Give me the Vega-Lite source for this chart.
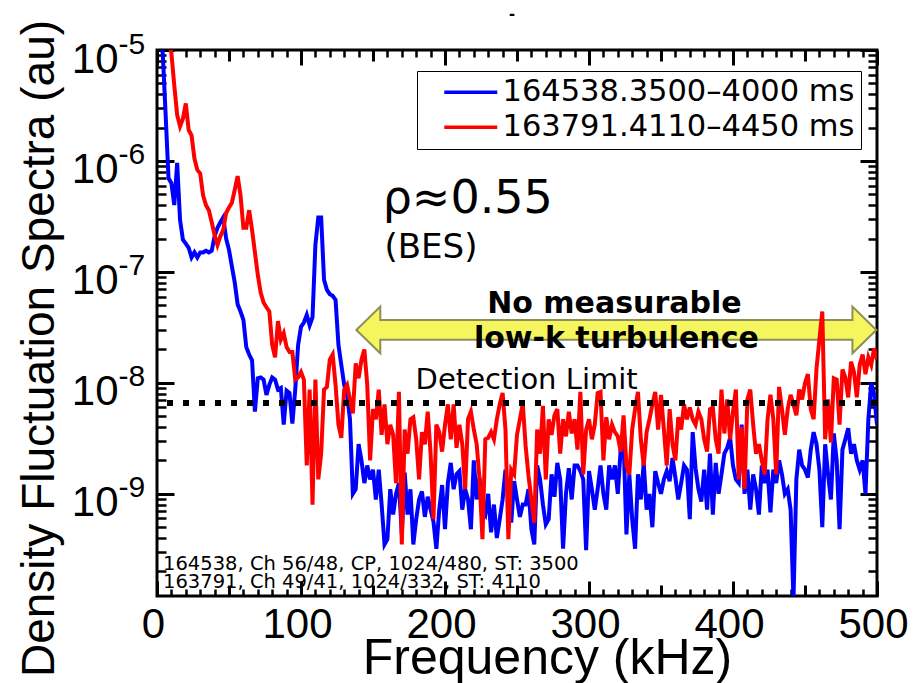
{
"$schema": "https://vega.github.io/schema/vega-lite/v6.json",
"width": 720, "height": 546,
"autosize": {"type": "none"},
"padding": {"left": 157, "top": 50, "right": 44, "bottom": 87},
"background": "white",
"config": {
  "view": {"stroke": "black", "strokeWidth": 3},
  "axis": {"grid": false, "domain": false, "labelColor": "black", "titleColor": "black", "tickColor": "black", "labelFont": "Liberation Sans", "titleFont": "Liberation Sans", "titleFontWeight": "normal", "labelOverlap": false, "labelFlush": false, "labelBound": false, "tickWidth": 3}
},
"datasets": {
  "spectra": [
{"f":0,"b":1.6e-5,"r":2.5e-5},{"f":2,"b":1.2e-5,"r":2.2e-5},{"f":4,"b":9.4e-6,"r":1.8e-5},{"f":6,"b":2.6e-6,"r":1.5e-5},{"f":8,"b":7e-7,"r":1.2e-5},
{"f":10,"b":6.3e-7,"r":9.4e-6},{"f":12,"b":4e-7,"r":4.8e-6},{"f":14,"b":9.6e-7,"r":2.6e-6},{"f":16,"b":2.95e-7,"r":2.05e-6},{"f":18,"b":1.95e-7,"r":2.4e-6},
{"f":20,"b":1.8e-7,"r":3.3e-6},{"f":22,"b":1.65e-7,"r":1.9e-6},{"f":24,"b":1.35e-7,"r":1.7e-6},{"f":26,"b":1.5e-7,"r":1.05e-6},{"f":28,"b":1.35e-7,"r":8.3e-7},
{"f":30,"b":1.5e-7,"r":7.7e-7},{"f":32,"b":1.5e-7,"r":4.9e-7},{"f":34,"b":1.55e-7,"r":4e-7},{"f":36,"b":1.5e-7,"r":3.6e-7},{"f":38,"b":1.55e-7,"r":2.8e-7},
{"f":40,"b":2.1e-7,"r":2.15e-7},{"f":42,"b":2.5e-7,"r":1.75e-7},{"f":44,"b":2.8e-7,"r":2.1e-7},{"f":46,"b":3.1e-7,"r":2.4e-7},{"f":48,"b":2e-7,"r":3.4e-7},
{"f":50,"b":1.58e-7,"r":3.8e-7},{"f":52,"b":1.12e-7,"r":4.2e-7},{"f":54,"b":8e-8,"r":5.5e-7},{"f":56,"b":5.1e-8,"r":7.3e-7},{"f":58,"b":4.4e-8,"r":4.9e-7},
{"f":60,"b":3.7e-8,"r":2.5e-7},{"f":62,"b":2.1e-8,"r":2.5e-7},{"f":64,"b":1.8e-8,"r":3.6e-7},{"f":66,"b":1.6e-8,"r":2.4e-7},{"f":68,"b":5.5e-9,"r":1.5e-7},
{"f":70,"b":1.1e-8,"r":9.4e-8},{"f":72,"b":1.12e-8,"r":6.5e-8},{"f":74,"b":1.07e-8,"r":5.3e-8},{"f":76,"b":7.8e-9,"r":4.8e-8},{"f":78,"b":9.6e-9,"r":4.4e-8},
{"f":80,"b":1.12e-8,"r":2.2e-8},{"f":82,"b":1.07e-8,"r":1.7e-8},{"f":84,"b":8.7e-9,"r":3.6e-8},{"f":86,"b":9e-9,"r":2.45e-8},{"f":88,"b":4.2e-9,"r":2.8e-8},
{"f":90,"b":8.5e-9,"r":2.1e-8},{"f":92,"b":8.1e-9,"r":1.9e-8},{"f":94,"b":4.3e-9,"r":1.9e-8},{"f":96,"b":8.7e-9,"r":1.07e-8},{"f":98,"b":2.2e-8,"r":1.12e-8},
{"f":100,"b":3.2e-8,"r":1.25e-8},{"f":102,"b":3.5e-8,"r":1.07e-8},{"f":104,"b":4.1e-8,"r":1.8e-9},{"f":106,"b":3.3e-8,"r":8.7e-9},{"f":108,"b":3.9e-8,"r":8e-10},
{"f":110,"b":1.75e-7,"r":1.07e-8},{"f":112,"b":3.1e-7,"r":1.35e-9},{"f":114,"b":3.1e-7,"r":2.3e-9},{"f":116,"b":8.5e-8,"r":8.7e-9},{"f":118,"b":6.9e-8,"r":9.2e-9},
{"f":120,"b":6.3e-8,"r":1.62e-8},{"f":122,"b":6.1e-8,"r":1.8e-8},{"f":124,"b":5.6e-8,"r":9.6e-9},{"f":126,"b":2.2e-8,"r":4.2e-9},{"f":128,"b":1.45e-8,"r":3.2e-9},
{"f":130,"b":9.6e-9,"r":8.7e-9},{"f":132,"b":7.8e-9,"r":9.6e-9},{"f":134,"b":4.7e-9,"r":7.1e-9},{"f":136,"b":1e-9,"r":5.3e-9},{"f":138,"b":1.1e-9,"r":1.5e-8},
{"f":140,"b":2.8e-9,"r":1.1e-8},{"f":142,"b":2e-9,"r":1.62e-8},{"f":144,"b":1.25e-9,"r":2e-8},{"f":146,"b":1.8e-9,"r":9.6e-9},{"f":148,"b":1.35e-9,"r":2e-9},
{"f":150,"b":1.65e-9,"r":5.8e-9},{"f":152,"b":8.9e-10,"r":4.7e-9},{"f":154,"b":1.65e-9,"r":8.7e-9},{"f":156,"b":8e-10,"r":3.4e-9},{"f":158,"b":3.5e-10,"r":6.4e-9},
{"f":160,"b":3.9e-10,"r":2.8e-9},{"f":162,"b":1.1e-9,"r":4.2e-9},{"f":164,"b":6.5e-10,"r":3.4e-9},{"f":166,"b":1e-9,"r":1.25e-9},{"f":168,"b":1.25e-9,"r":8.3e-9},
{"f":170,"b":4.3e-10,"r":3.5e-10},{"f":172,"b":1.55e-9,"r":3.8e-9},{"f":174,"b":6.5e-10,"r":2.3e-9},{"f":176,"b":1.1e-9,"r":4.7e-9},{"f":178,"b":3.5e-10,"r":4.9e-9},
{"f":180,"b":5.9e-10,"r":3.1e-9},{"f":182,"b":8.9e-10,"r":1.35e-9},{"f":184,"b":1.05e-9,"r":3.6e-9},{"f":186,"b":6.2e-10,"r":2.8e-9},{"f":188,"b":9.4e-10,"r":5.5e-9},
{"f":190,"b":7.2e-10,"r":2.3e-9},{"f":192,"b":5.6e-10,"r":5.9e-10},{"f":194,"b":3.2e-10,"r":4.2e-9},{"f":196,"b":7.2e-10,"r":3.6e-9},{"f":198,"b":1.2e-9,"r":2.4e-9},
{"f":200,"b":4.8e-10,"r":4.2e-9},{"f":202,"b":1.25e-9,"r":6.4e-9},{"f":204,"b":1.9e-9,"r":3.1e-9},{"f":206,"b":1.1e-9,"r":6.4e-9},{"f":208,"b":1.5e-9,"r":2.6e-9},
{"f":210,"b":1.6e-9,"r":4.2e-9},{"f":212,"b":7.2e-10,"r":2.8e-9},{"f":214,"b":1.1e-9,"r":1.1e-9},{"f":216,"b":8.9e-10,"r":4.7e-9},{"f":218,"b":4.8e-10,"r":5.5e-9},
{"f":220,"b":2e-9,"r":3.8e-9},{"f":222,"b":8.9e-10,"r":2.8e-9},{"f":224,"b":1.4e-9,"r":1.35e-9},{"f":226,"b":7.2e-10,"r":3.9e-10},{"f":228,"b":6.5e-10,"r":3.1e-9},
{"f":230,"b":1e-9,"r":3.2e-9},{"f":232,"b":4.5e-10,"r":3.6e-9},{"f":234,"b":8e-10,"r":3.1e-9},{"f":236,"b":4e-10,"r":4.7e-9},{"f":238,"b":5.9e-10,"r":6.4e-9},
{"f":240,"b":8.9e-10,"r":8.1e-9},{"f":242,"b":1.65e-9,"r":3.8e-9},{"f":244,"b":9.4e-10,"r":3.9e-10},{"f":246,"b":5.5e-10,"r":1.65e-9},{"f":248,"b":1.3e-9,"r":1.5e-9},
{"f":250,"b":8.9e-10,"r":3.4e-9},{"f":252,"b":6.2e-10,"r":4.7e-9},{"f":254,"b":8e-10,"r":6.5e-9},{"f":256,"b":8e-10,"r":2.7e-9},{"f":258,"b":1.1e-9,"r":1.45e-9},
{"f":260,"b":4.8e-10,"r":8.9e-10},{"f":262,"b":3.5e-10,"r":5.5e-10},{"f":264,"b":1.8e-9,"r":3.8e-9},{"f":266,"b":1.35e-9,"r":2.3e-9},{"f":268,"b":8e-10,"r":6.2e-9},
{"f":270,"b":5.3e-10,"r":1.35e-9},{"f":272,"b":5.9e-10,"r":4.7e-9},{"f":274,"b":1.5e-9,"r":3.4e-9},{"f":276,"b":9.4e-10,"r":5.1e-9},{"f":278,"b":1.9e-9,"r":5.8e-9},
{"f":280,"b":1.35e-9,"r":2.3e-9},{"f":282,"b":3.2e-10,"r":4.7e-9},{"f":284,"b":1e-9,"r":3.3e-9},{"f":286,"b":1.7e-9,"r":5.5e-9},{"f":288,"b":8.9e-10,"r":3.5e-9},
{"f":290,"b":1.8e-9,"r":4.7e-9},{"f":292,"b":1.8e-9,"r":2.5e-9},{"f":294,"b":1.6e-9,"r":8.3e-9},{"f":296,"b":1.35e-9,"r":1.5e-9},{"f":298,"b":3.1e-10,"r":3.8e-9},
{"f":300,"b":1.6e-9,"r":4.7e-9},{"f":302,"b":1.1e-9,"r":3.1e-9},{"f":304,"b":7.2e-10,"r":4.2e-9},{"f":306,"b":1.1e-9,"r":8.1e-9},{"f":308,"b":1.8e-9,"r":8.3e-9},
{"f":310,"b":1e-9,"r":2e-9},{"f":312,"b":7.2e-10,"r":4.9e-9},{"f":314,"b":1.8e-9,"r":3.1e-9},{"f":316,"b":1.35e-9,"r":4.2e-9},{"f":318,"b":1.8e-9,"r":3.6e-9},
{"f":320,"b":1e-9,"r":3.3e-9},{"f":322,"b":2.5e-9,"r":2.4e-9},{"f":324,"b":3.1e-9,"r":5.1e-9},{"f":326,"b":4.3e-10,"r":1.8e-9},{"f":328,"b":1.5e-9,"r":1.5e-9},
{"f":330,"b":5.9e-10,"r":3.8e-9},{"f":332,"b":3.2e-10,"r":5.8e-9},{"f":334,"b":1.5e-9,"r":8.3e-9},{"f":336,"b":8.9e-10,"r":3.1e-9},{"f":338,"b":1.9e-9,"r":1.8e-9},
{"f":340,"b":7.2e-10,"r":3.6e-9},{"f":342,"b":1e-9,"r":4.7e-9},{"f":344,"b":5e-10,"r":6.4e-9},{"f":346,"b":1.6e-9,"r":8.3e-9},{"f":348,"b":1.25e-9,"r":3.8e-9},
{"f":350,"b":1e-9,"r":7.8e-9},{"f":352,"b":1.35e-9,"r":3.8e-9},{"f":354,"b":1.6e-9,"r":1.8e-9},{"f":356,"b":1.3e-9,"r":5.8e-9},{"f":358,"b":2.1e-9,"r":2.8e-9},
{"f":360,"b":1.4e-9,"r":2e-9},{"f":362,"b":8.9e-10,"r":4.9e-9},{"f":364,"b":1.25e-9,"r":3.8e-9},{"f":366,"b":1.8e-9,"r":6.4e-9},{"f":368,"b":1.65e-9,"r":4.7e-9},
{"f":370,"b":5.9e-10,"r":6e-9},{"f":372,"b":3.6e-9,"r":4.7e-9},{"f":374,"b":1.7e-9,"r":4.2e-9},{"f":376,"b":1.1e-9,"r":5.5e-9},{"f":378,"b":8.5e-10,"r":4.7e-9},
{"f":380,"b":1.65e-9,"r":3.1e-9},{"f":382,"b":7.2e-10,"r":2.4e-9},{"f":384,"b":2.3e-9,"r":5.8e-9},{"f":386,"b":6.5e-10,"r":6e-9},{"f":388,"b":1.9e-9,"r":3.1e-9},
{"f":390,"b":1e-9,"r":2.3e-9},{"f":392,"b":1.5e-9,"r":8.7e-9},{"f":394,"b":2.3e-9,"r":3.5e-9},{"f":396,"b":2.6e-9,"r":7.1e-9},{"f":398,"b":3.2e-9,"r":3.1e-9},
{"f":400,"b":1.8e-9,"r":5.5e-9},{"f":402,"b":1.35e-9,"r":8.7e-9},{"f":404,"b":1.25e-9,"r":1.35e-9},{"f":406,"b":4.2e-9,"r":4e-9},{"f":408,"b":1e-9,"r":1.1e-9},
{"f":410,"b":1.65e-9,"r":7.1e-9},{"f":412,"b":7.2e-10,"r":8.7e-9},{"f":414,"b":1.5e-9,"r":4.2e-9},{"f":416,"b":1.1e-9,"r":2.3e-9},{"f":418,"b":6.5e-10,"r":2.8e-9},
{"f":420,"b":1.8e-9,"r":2e-9},{"f":422,"b":1.25e-9,"r":1.5e-9},{"f":424,"b":1.65e-9,"r":4.7e-9},{"f":426,"b":6.8e-10,"r":7.8e-9},{"f":428,"b":1.65e-9,"r":4.7e-9},
{"f":430,"b":1.25e-9,"r":1.5e-9},{"f":432,"b":2e-9,"r":9.2e-9},{"f":434,"b":1.5e-9,"r":5.8e-9},{"f":436,"b":1e-9,"r":3.4e-9},{"f":438,"b":1.1e-9,"r":5.8e-9},
{"f":440,"b":7.2e-10,"r":7.8e-9},{"f":442,"b":1.1e-10,"r":6.4e-9},{"f":444,"b":1.35e-9,"r":5.1e-9},{"f":446,"b":2.5e-9,"r":8.7e-9},{"f":448,"b":1.8e-9,"r":7.1e-9},
{"f":450,"b":1.65e-9,"r":1e-8},{"f":452,"b":1.4e-9,"r":1.2e-8},{"f":454,"b":2.5e-9,"r":5.8e-9},{"f":456,"b":3.6e-9,"r":4.7e-9},{"f":458,"b":2.8e-9,"r":1.35e-8},
{"f":460,"b":1.65e-9,"r":2.45e-8},{"f":462,"b":5e-10,"r":4.4e-8},{"f":464,"b":2.8e-9,"r":3.1e-9},{"f":466,"b":1.5e-9,"r":7.1e-9},{"f":468,"b":8.9e-10,"r":2.9e-9},
{"f":470,"b":3.5e-9,"r":1.1e-8},{"f":472,"b":2e-9,"r":1.07e-8},{"f":474,"b":4.8e-10,"r":4.2e-9},{"f":476,"b":2.5e-9,"r":1.32e-8},{"f":478,"b":3.1e-9,"r":1.12e-8},
{"f":480,"b":3.9e-9,"r":7.4e-9},{"f":482,"b":2.3e-9,"r":1.55e-8},{"f":484,"b":2.8e-9,"r":1.25e-8},{"f":486,"b":2e-9,"r":7.4e-9},{"f":488,"b":1.65e-9,"r":1.45e-8},
{"f":490,"b":2e-9,"r":1.8e-8},{"f":492,"b":1e-9,"r":1.2e-8},{"f":494,"b":4.7e-9,"r":1.7e-8},{"f":496,"b":1e-8,"r":1.45e-8},{"f":498,"b":7.8e-9,"r":2.05e-8},
{"f":500,"b":4.2e-9,"r":1.62e-8}
  ]
},
"layer": [
  {
    "data": {"values": [{"f": 319, "v": 3.0e-8}]},
    "mark": {"type": "point", "shape": "M-1,0L-0.908,-0.09L-0.908,-0.038L0.908,-0.038L0.908,-0.09L1,0L0.908,0.09L0.908,0.038L-0.908,0.038L-0.908,0.09Z", "size": 270400, "filled": true, "fill": "#f5f55e", "stroke": "#8e8e58", "strokeWidth": 2, "opacity": 1},
    "encoding": {
      "x": {"field": "f", "type": "quantitative", "scale": {"domain": [0, 500]}, "axis": {"orient": "bottom", "values": [0,100,200,300,400,500], "labels": false, "tickSize": -15, "title": null}},
      "y": {"field": "v", "type": "quantitative", "scale": {"type": "log", "domain": [1.2e-10, 1e-5]}, "axis": {"orient": "left", "values": [1e-9,1e-8,1e-7,1e-6,1e-5], "labels": false, "tickSize": -17, "title": null}}
    }
  },
  {
    "data": {"name": "spectra"},
    "transform": [{"fold": ["b", "r"], "as": ["series", "v"]}],
    "mark": {"type": "line", "strokeWidth": 4, "clip": true},
    "encoding": {
      "x": {"field": "f", "type": "quantitative", "scale": {"domain": [0, 500]}, "axis": {"orient": "bottom", "values": [0,100,200,300,400,500], "ticks": false, "labelFontSize": 42, "labelPadding": 8, "labelBaseline": "top", "labelOffset": -4, "title": "Frequency (kHz)", "titleFontSize": 50, "titleX": 390, "titleY": 77, "titleAlign": "center", "titleBaseline": "alphabetic"}},
      "y": {"field": "v", "type": "quantitative", "scale": {"type": "log", "domain": [1.2e-10, 1e-5]}, "axis": {"orient": "left", "values": [1e-9,1e-8,1e-7,1e-6,1e-5], "ticks": false, "labelExpr": "'10'", "labelFontSize": 42, "labelAlign": "right", "labelBaseline": "middle", "labelPadding": 39, "labelOffset": 9, "title": "Density Fluctuation Spectra (au)", "titleFontSize": 46, "titleX": -104, "titleY": 298, "titleAngle": -90, "titleAlign": "center", "titleBaseline": "alphabetic"}},
      "color": {"field": "series", "type": "nominal", "scale": {"domain": ["b", "r"], "range": ["#0000ff", "#ff0000"]},
        "legend": {"orient": "none", "legendX": 260, "legendY": 21, "title": null, "padding": 6, "strokeColor": "black", "fillColor": "white", "labelFont": "DejaVu Sans", "labelFontSize": 30.5, "labelColor": "black", "symbolType": "M-1,0H4.3", "symbolSize": 400, "symbolStrokeWidth": 3.5, "symbolOffset": 16, "labelOffset": 33, "rowPadding": 4, "labelLimit": 0, "labelExpr": "datum.value == 'b' ? '164538.3500–4000 ms' : '163791.4110–4450 ms'"}}
    }
  },
  {
    "data": {"values": [{"v": 6.6e-9}]},
    "mark": {"type": "rule", "color": "black", "strokeWidth": 6, "strokeDash": [6, 10], "strokeCap": "butt"},
    "encoding": {
      "y": {"field": "v", "type": "quantitative", "scale": {"type": "log", "domain": [1.2e-10, 1e-5]}, "axis": {"orient": "left", "values": [1e-9,1e-8,1e-7,1e-6,1e-5], "ticks": false, "labelExpr": "'-' + round(-log(datum.value)/LN10)", "labelFontSize": 30, "labelAlign": "left", "labelBaseline": "middle", "labelPadding": 39, "labelOffset": -6, "title": null}}
    }
  },
  {
    "data": {"values": [{"f": 156.7, "v": 3.4e-7, "t": "ρ≈0.55"}]},
    "mark": {"type": "text", "font": "DejaVu Sans", "fontSize": 46, "align": "left", "baseline": "alphabetic", "color": "black"},
    "encoding": {
      "x": {"field": "f", "type": "quantitative", "scale": {"domain": [0, 500]}, "axis": {"orient": "bottom", "values": [50,150,250,350,450], "labels": false, "tickSize": -11, "title": null}},
      "y": {"field": "v", "type": "quantitative", "scale": {"type": "log", "domain": [1.2e-10, 1e-5]}, "axis": {"orient": "left", "values": [2e-10,3e-10,4e-10,5e-10,6e-10,7e-10,8e-10,9e-10,2e-9,3e-9,4e-9,5e-9,6e-9,7e-9,8e-9,9e-9,2e-8,3e-8,4e-8,5e-8,6e-8,7e-8,8e-8,9e-8,2e-7,3e-7,4e-7,5e-7,6e-7,7e-7,8e-7,9e-7,2e-6,3e-6,4e-6,5e-6,6e-6,7e-6,8e-6,9e-6], "labels": false, "tickSize": -9, "tickWidth": 2.5, "title": null}},
      "text": {"field": "t"}
    }
  },
  {
    "data": {"values": [{"f": 158, "v": 1.34e-7, "t": "(BES)"}]},
    "mark": {"type": "text", "font": "DejaVu Sans", "fontSize": 34, "align": "left", "baseline": "alphabetic", "color": "black"},
    "encoding": {
      "x": {"field": "f", "type": "quantitative", "scale": {"domain": [0, 500]}, "axis": {"orient": "bottom", "values": [10,20,30,40,60,70,80,90,110,120,130,140,160,170,180,190,210,220,230,240,260,270,280,290,310,320,330,340,360,370,380,390,410,420,430,440,460,470,480,490], "labels": false, "tickSize": -7, "tickWidth": 2.5, "title": null}},
      "y": {"field": "v", "type": "quantitative", "scale": {"type": "log", "domain": [1.2e-10, 1e-5]}, "axis": {"orient": "right", "values": [1e-9,1e-8,1e-7,1e-6,1e-5], "labels": false, "tickSize": -17, "title": null}},
      "text": {"field": "t"}
    }
  },
  {
    "data": {"values": [{"f": 317.6, "v": 4.27e-8, "t": "No measurable"}, {"f": 319, "v": 2.07e-8, "t": "low-k turbulence"}]},
    "mark": {"type": "text", "font": "DejaVu Sans", "fontWeight": "bold", "fontSize": 30, "align": "center", "baseline": "alphabetic", "color": "black"},
    "encoding": {
      "x": {"field": "f", "type": "quantitative", "scale": {"domain": [0, 500]}, "axis": {"orient": "top", "values": [0,100,200,300,400,500], "labels": false, "tickSize": -15, "title": null}},
      "y": {"field": "v", "type": "quantitative", "scale": {"type": "log", "domain": [1.2e-10, 1e-5]}, "axis": {"orient": "right", "values": [2e-10,3e-10,4e-10,5e-10,6e-10,7e-10,8e-10,9e-10,2e-9,3e-9,4e-9,5e-9,6e-9,7e-9,8e-9,9e-9,2e-8,3e-8,4e-8,5e-8,6e-8,7e-8,8e-8,9e-8,2e-7,3e-7,4e-7,5e-7,6e-7,7e-7,8e-7,9e-7,2e-6,3e-6,4e-6,5e-6,6e-6,7e-6,8e-6,9e-6], "labels": false, "tickSize": -9, "tickWidth": 2.5, "title": null}},
      "text": {"field": "t"}
    }
  },
  {
    "data": {"values": [{"f": 179.6, "v": 8.8e-9, "t": "Detection Limit"}]},
    "mark": {"type": "text", "font": "DejaVu Sans", "fontSize": 29, "align": "left", "baseline": "alphabetic", "color": "black"},
    "encoding": {
      "x": {"field": "f", "type": "quantitative", "scale": {"domain": [0, 500]}, "axis": {"orient": "top", "values": [50,150,250,350,450], "labels": false, "tickSize": -11, "title": null}},
      "y": {"field": "v", "type": "quantitative", "scale": {"type": "log", "domain": [1.2e-10, 1e-5]}, "axis": null},
      "text": {"field": "t"}
    }
  },
  {
    "data": {"values": [{"f": 4.2, "v": 2.07e-10, "t": "164538, Ch 56/48, CP, 1024/480, ST: 3500"}, {"f": 4.2, "v": 1.42e-10, "t": "163791, Ch 49/41, 1024/332, ST: 4110"}]},
    "mark": {"type": "text", "font": "DejaVu Sans", "fontSize": 19.5, "align": "left", "baseline": "alphabetic", "color": "black"},
    "encoding": {
      "x": {"field": "f", "type": "quantitative", "scale": {"domain": [0, 500]}, "axis": {"orient": "top", "values": [10,20,30,40,60,70,80,90,110,120,130,140,160,170,180,190,210,220,230,240,260,270,280,290,310,320,330,340,360,370,380,390,410,420,430,440,460,470,480,490], "labels": false, "tickSize": -7, "tickWidth": 2.5, "title": null}},
      "y": {"field": "v", "type": "quantitative", "scale": {"type": "log", "domain": [1.2e-10, 1e-5]}, "axis": null},
      "text": {"field": "t"}
    }
  },
  {
    "data": {"values": [{"f": 246.5, "v": 2.07e-5, "t": "-"}]},
    "mark": {"type": "text", "font": "Liberation Sans", "fontWeight": "bold", "fontSize": 18, "align": "center", "baseline": "middle", "color": "black", "clip": false},
    "encoding": {
      "x": {"field": "f", "type": "quantitative", "scale": {"domain": [0, 500]}, "axis": null},
      "y": {"field": "v", "type": "quantitative", "scale": {"type": "log", "domain": [1.2e-10, 1e-5]}, "axis": null},
      "text": {"field": "t"}
    }
  }
],
"resolve": {"axis": {"x": "independent", "y": "independent"}}
}
